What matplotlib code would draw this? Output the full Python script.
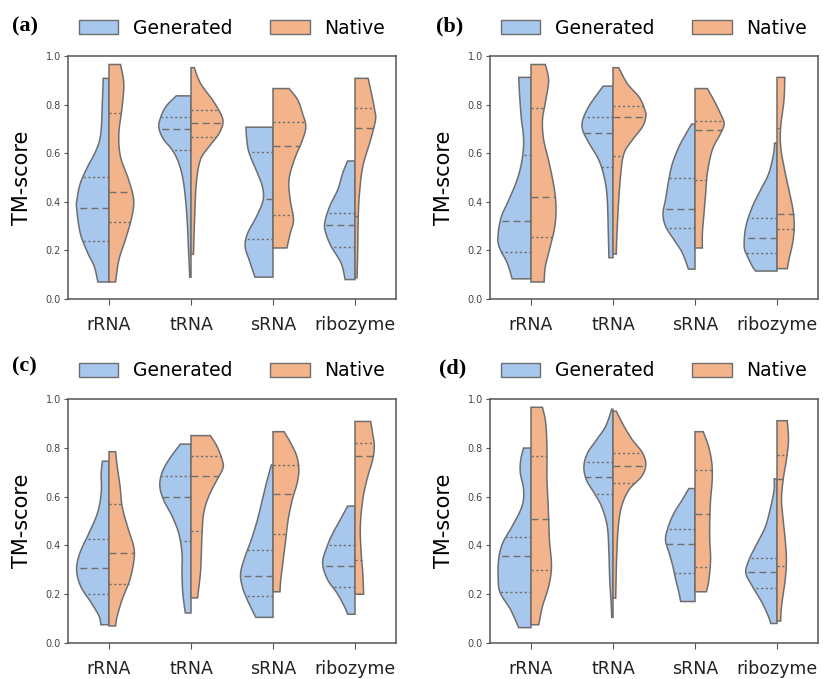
import matplotlib
matplotlib.use("Agg")
import matplotlib.pyplot as plt
import numpy as np
from matplotlib.patches import Patch

CATEGORIES = ['rRNA', 'tRNA', 'sRNA', 'ribozyme']
PANEL_LABELS = ['(a)', '(b)', '(c)', '(d)']
SERIES = ['Generated', 'Native']

# violin half profiles: (TM-score, half width) bottom -> top
GEN_A = [
    [(0.07, 0.135), (0.134, 0.18), (0.19, 0.26), (0.27, 0.35), (0.374, 0.395), (0.41, 0.39),
     (0.476, 0.35), (0.545, 0.26), (0.61, 0.16), (0.68, 0.10), (0.82, 0.08), (0.908, 0.07)],
    [(0.09, 0.015), (0.2, 0.03), (0.34, 0.05), (0.477, 0.09), (0.56, 0.15), (0.614, 0.23),
     (0.655, 0.33), (0.70, 0.39), (0.737, 0.38), (0.79, 0.31), (0.836, 0.18)],
    [(0.09, 0.22), (0.16, 0.29), (0.216, 0.34), (0.27, 0.31), (0.34, 0.20), (0.408, 0.12),
     (0.463, 0.13), (0.518, 0.19), (0.6, 0.29), (0.655, 0.32), (0.707, 0.33)],
    [(0.08, 0.12), (0.148, 0.17), (0.216, 0.29), (0.27, 0.355), (0.312, 0.37), (0.38, 0.31),
     (0.45, 0.21), (0.518, 0.15), (0.568, 0.09)],
]
NAT_A = [
    [(0.07, 0.08), (0.16, 0.12), (0.244, 0.20), (0.34, 0.28), (0.41, 0.30), (0.49, 0.24),
     (0.586, 0.14), (0.68, 0.12), (0.79, 0.16), (0.888, 0.18), (0.965, 0.14)],
    [(0.184, 0.03), (0.34, 0.045), (0.477, 0.065), (0.573, 0.115), (0.627, 0.22), (0.68, 0.34),
     (0.726, 0.39), (0.764, 0.36), (0.82, 0.26), (0.888, 0.115), (0.952, 0.04)],
    [(0.21, 0.17), (0.27, 0.21), (0.326, 0.25), (0.408, 0.21), (0.49, 0.195), (0.573, 0.26),
     (0.655, 0.36), (0.71, 0.40), (0.764, 0.36), (0.82, 0.30), (0.866, 0.195)],
    [(0.087, 0.025), (0.2, 0.033), (0.34, 0.04), (0.436, 0.055), (0.545, 0.095), (0.655, 0.19),
     (0.737, 0.25), (0.778, 0.24), (0.847, 0.20), (0.908, 0.16)],
]
GEN_A_Q = [(0.238, 0.374, 0.504), (0.614, 0.70, 0.75), (0.246, 0.41, 0.604), (0.216, 0.304, 0.352)]
NAT_A_Q = [(0.315, 0.44, 0.764), (0.665, 0.725, 0.778), (0.345, 0.629, 0.728), (0.34, 0.702, 0.788)]

GEN_B = [
    [(0.083, 0.23), (0.148, 0.29), (0.216, 0.39), (0.27, 0.40), (0.34, 0.36), (0.408, 0.27),
     (0.49, 0.17), (0.57, 0.11), (0.654, 0.09), (0.75, 0.12), (0.845, 0.14), (0.912, 0.15)],
    [(0.17, 0.05), (0.27, 0.057), (0.41, 0.07), (0.49, 0.10), (0.57, 0.17), (0.64, 0.29),
     (0.695, 0.37), (0.736, 0.37), (0.79, 0.30), (0.83, 0.22), (0.876, 0.12)],
    [(0.123, 0.08), (0.19, 0.155), (0.243, 0.255), (0.30, 0.36), (0.353, 0.39), (0.408, 0.36),
     (0.49, 0.32), (0.558, 0.275), (0.627, 0.195), (0.68, 0.11), (0.72, 0.04)],
    [(0.115, 0.26), (0.134, 0.30), (0.175, 0.36), (0.216, 0.40), (0.298, 0.38), (0.38, 0.30),
     (0.449, 0.20), (0.517, 0.10), (0.6, 0.04), (0.642, 0.03)],
]
NAT_B = [
    [(0.07, 0.16), (0.134, 0.175), (0.216, 0.235), (0.298, 0.29), (0.38, 0.305), (0.462, 0.28),
     (0.57, 0.215), (0.654, 0.155), (0.736, 0.14), (0.818, 0.18), (0.90, 0.215), (0.965, 0.175)],
    [(0.185, 0.04), (0.243, 0.045), (0.38, 0.065), (0.517, 0.095), (0.6, 0.135), (0.654, 0.235),
     (0.709, 0.36), (0.75, 0.40), (0.777, 0.39), (0.83, 0.32), (0.886, 0.175), (0.952, 0.07)],
    [(0.21, 0.09), (0.27, 0.09), (0.353, 0.11), (0.435, 0.13), (0.517, 0.15), (0.613, 0.21),
     (0.68, 0.31), (0.722, 0.355), (0.763, 0.31), (0.818, 0.23), (0.866, 0.15)],
    [(0.125, 0.126), (0.161, 0.145), (0.23, 0.19), (0.298, 0.21), (0.367, 0.195), (0.449, 0.145),
     (0.545, 0.085), (0.626, 0.045), (0.709, 0.045), (0.818, 0.085), (0.912, 0.095)],
]
GEN_B_Q = [(0.194, 0.323, 0.592), (0.545, 0.683, 0.75), (0.291, 0.371, 0.499), (0.189, 0.252, 0.335)]
NAT_B_Q = [(0.256, 0.421, 0.787), (0.588, 0.747, 0.796), (0.49, 0.695, 0.733), (0.29, 0.349, 0.702)]

GEN_C = [
    [(0.075, 0.10), (0.109, 0.12), (0.164, 0.215), (0.232, 0.345), (0.30, 0.395), (0.369, 0.355),
     (0.45, 0.245), (0.533, 0.14), (0.615, 0.095), (0.697, 0.095), (0.745, 0.08)],
    [(0.123, 0.07), (0.205, 0.10), (0.287, 0.11), (0.369, 0.11), (0.45, 0.15), (0.519, 0.23),
     (0.587, 0.335), (0.642, 0.38), (0.697, 0.355), (0.751, 0.27), (0.815, 0.13)],
    [(0.105, 0.21), (0.178, 0.315), (0.232, 0.375), (0.287, 0.395), (0.355, 0.34), (0.423, 0.265),
     (0.505, 0.19), (0.587, 0.13), (0.669, 0.07), (0.73, 0.02)],
    [(0.118, 0.09), (0.15, 0.13), (0.205, 0.22), (0.26, 0.335), (0.328, 0.395), (0.396, 0.34),
     (0.45, 0.27), (0.505, 0.18), (0.561, 0.09)],
]
NAT_C = [
    [(0.07, 0.08), (0.109, 0.10), (0.178, 0.16), (0.26, 0.255), (0.342, 0.305), (0.396, 0.30),
     (0.478, 0.225), (0.56, 0.16), (0.642, 0.135), (0.724, 0.10), (0.784, 0.08)],
    [(0.185, 0.08), (0.287, 0.115), (0.369, 0.126), (0.45, 0.135), (0.533, 0.155), (0.6, 0.215),
     (0.669, 0.317), (0.717, 0.39), (0.751, 0.38), (0.806, 0.317), (0.85, 0.235)],
    [(0.21, 0.085), (0.26, 0.095), (0.342, 0.125), (0.423, 0.155), (0.505, 0.185), (0.587, 0.235),
     (0.656, 0.295), (0.71, 0.315), (0.765, 0.29), (0.82, 0.215), (0.866, 0.135)],
    [(0.20, 0.105), (0.287, 0.095), (0.369, 0.075), (0.478, 0.065), (0.587, 0.095), (0.669, 0.145),
     (0.751, 0.215), (0.806, 0.235), (0.86, 0.215), (0.908, 0.19)],
]
GEN_C_Q = [(0.20, 0.306, 0.428), (0.419, 0.598, 0.683), (0.191, 0.276, 0.38), (0.231, 0.317, 0.402)]
NAT_C_Q = [(0.243, 0.367, 0.571), (0.46, 0.684, 0.765), (0.448, 0.612, 0.728), (0.34, 0.765, 0.82)]

GEN_D = [
    [(0.063, 0.15), (0.137, 0.25), (0.205, 0.375), (0.26, 0.40), (0.342, 0.395), (0.41, 0.345),
     (0.478, 0.23), (0.56, 0.11), (0.628, 0.09), (0.697, 0.13), (0.751, 0.125), (0.799, 0.09)],
    [(0.105, 0.015), (0.178, 0.025), (0.26, 0.04), (0.369, 0.05), (0.478, 0.07), (0.56, 0.14),
     (0.615, 0.23), (0.669, 0.325), (0.724, 0.355), (0.779, 0.31), (0.833, 0.20), (0.888, 0.09),
     (0.958, 0.015)],
    [(0.17, 0.175), (0.205, 0.195), (0.26, 0.235), (0.314, 0.27), (0.369, 0.315), (0.423, 0.36),
     (0.478, 0.325), (0.533, 0.255), (0.587, 0.155), (0.633, 0.075)],
    [(0.08, 0.077), (0.109, 0.105), (0.164, 0.18), (0.232, 0.30), (0.287, 0.38), (0.342, 0.34),
     (0.41, 0.24), (0.478, 0.14), (0.56, 0.075), (0.628, 0.035), (0.673, 0.035)],
]
NAT_D = [
    [(0.075, 0.095), (0.15, 0.14), (0.232, 0.215), (0.314, 0.25), (0.423, 0.225), (0.56, 0.21),
     (0.669, 0.195), (0.79, 0.195), (0.90, 0.18), (0.966, 0.14)],
    [(0.184, 0.033), (0.355, 0.045), (0.478, 0.065), (0.56, 0.105), (0.628, 0.195), (0.683, 0.35),
     (0.731, 0.40), (0.779, 0.36), (0.833, 0.235), (0.888, 0.135), (0.95, 0.04)],
    [(0.21, 0.14), (0.26, 0.17), (0.342, 0.19), (0.423, 0.18), (0.505, 0.18), (0.587, 0.19),
     (0.669, 0.21), (0.738, 0.205), (0.806, 0.165), (0.866, 0.10)],
    [(0.09, 0.045), (0.15, 0.055), (0.26, 0.10), (0.342, 0.115), (0.423, 0.10), (0.505, 0.075),
     (0.587, 0.055), (0.669, 0.075), (0.751, 0.115), (0.833, 0.14), (0.911, 0.125)],
]
GEN_D_Q = [(0.21, 0.355, 0.436), (0.61, 0.679, 0.74), (0.285, 0.404, 0.467), (0.225, 0.292, 0.347)]
NAT_D_Q = [(0.299, 0.51, 0.768), (0.657, 0.725, 0.78), (0.311, 0.529, 0.71), (0.314, 0.672, 0.772)]

BLUE = '#a7c7ec'
ORANGE = '#f3b48b'
EDGE = '#6e6e6e'

W, H = 823, 679
# axes boxes in pixels: left, top, width, height
AX_PX = [(68, 56, 328, 243), (490, 56, 328, 243), (68, 399, 328, 244), (490, 399, 328, 244)]
LABEL_PX = [(12, 26), (436, 26), (12, 366), (439, 368)]


def smooth(points, n=10):
    # Catmull-Rom through the read-off profile points
    p = np.asarray(points, dtype=float)
    p = np.vstack([p[0], p, p[-1]])
    out = []
    t = np.linspace(0, 1, n, endpoint=False)[:, None]
    for i in range(1, len(p) - 2):
        p0, p1, p2, p3 = p[i - 1], p[i], p[i + 1], p[i + 2]
        seg = 0.5 * (2 * p1 + (-p0 + p2) * t + (2 * p0 - 5 * p1 + 4 * p2 - p3) * t ** 2
                     + (-p0 + 3 * p1 - 3 * p2 + p3) * t ** 3)
        out.append(seg)
    out.append(p[-1:])
    return np.vstack(out)


def draw_half(ax, pos, profile, quarts, color, sign):
    pts = smooth(profile)
    ys, ws = pts[:, 0], pts[:, 1]
    xs = np.concatenate([[pos], pos + sign * ws, [pos]])
    yy = np.concatenate([[ys[0]], ys, [ys[-1]]])
    ax.fill(xs, yy, facecolor=color, edgecolor=EDGE, linewidth=1.1, zorder=2)
    order = np.argsort(ys)
    for i, q in enumerate(quarts):
        w = np.interp(q, ys[order], ws[order])
        dashes = (5, 3) if i == 1 else (1.6, 1.8)
        ax.plot([pos, pos + sign * w], [q, q], color=EDGE, linewidth=1.0,
                dashes=dashes, zorder=3)


def draw_panel(ax, gen, nat, gen_q, nat_q):
    for i in range(len(CATEGORIES)):
        draw_half(ax, i, gen[i], gen_q[i], BLUE, -1)
        draw_half(ax, i, nat[i], nat_q[i], ORANGE, 1)
    ax.set_xlim(-0.5, len(CATEGORIES) - 0.5)
    ax.set_ylim(0, 1)
    ax.set_xticks(range(len(CATEGORIES)))
    ax.set_xticklabels(CATEGORIES, fontsize=12.5, color='#222222')
    ax.set_yticks(np.arange(0, 1.01, 0.2))
    ax.set_yticklabels([f'{v:.1f}' for v in np.arange(0, 1.01, 0.2)], fontsize=7, color='#444444')
    ax.tick_params(axis='x', length=4, pad=8, color='#555555')
    ax.tick_params(axis='y', length=3, pad=2, color='#555555')
    for s in ax.spines.values():
        s.set_color('#555555')
        s.set_linewidth(1.1)
    ax.set_ylabel('TM-score', fontsize=15)
    ax.yaxis.set_label_coords(-0.11, 0.5)
    handles = [Patch(facecolor=BLUE, edgecolor=EDGE, label=SERIES[0]),
               Patch(facecolor=ORANGE, edgecolor=EDGE, label=SERIES[1])]
    ax.legend(handles=handles, loc='center', bbox_to_anchor=(0.5, 1.115), ncol=2,
              frameon=False, fontsize=13.5, handlelength=2.1, handleheight=0.75,
              columnspacing=2.0, handletextpad=0.8)


def main():
    fig = plt.figure(figsize=(W / 100, H / 100), dpi=100)
    panels = [(GEN_A, NAT_A, GEN_A_Q, NAT_A_Q), (GEN_B, NAT_B, GEN_B_Q, NAT_B_Q),
              (GEN_C, NAT_C, GEN_C_Q, NAT_C_Q), (GEN_D, NAT_D, GEN_D_Q, NAT_D_Q)]
    for k, data in enumerate(panels):
        l, t, w, h = AX_PX[k]
        ax = fig.add_axes([l / W, 1 - (t + h) / H, w / W, h / H])
        draw_panel(ax, *data)
        lx, ly = LABEL_PX[k]
        fig.text(lx / W, 1 - ly / H, PANEL_LABELS[k], fontsize=16, fontweight='bold',
                 family='Liberation Serif', ha='left', va='center')
    fig.savefig('out.png', dpi=100)


if __name__ == "__main__":
    main()
